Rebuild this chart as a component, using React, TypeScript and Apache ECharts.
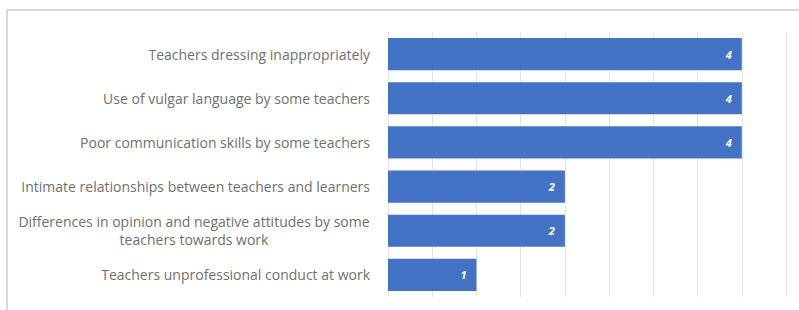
import React, { useEffect, useRef } from "react";
import * as echarts from "echarts";

const categories = [
  "Teachers dressing inappropriately",
  "Use of vulgar language by some teachers",
  "Poor communication skills by some teachers",
  "Intimate relationships between teachers and learners",
  "Differences in opinion and negative attitudes by some teachers towards work",
  "Teachers unprofessional conduct at work",
];
const values = [4, 4, 4, 2, 2, 1];
const xMax = 4.5;
const xInterval = 0.5;

const LABEL_FONT = "14px 'Open Sans'";
const LABEL_WIDTH = 362;

function wrapLabel(text: string): string {
  const canvas = document.createElement("canvas");
  const ctx = canvas.getContext("2d");
  if (!ctx) return text;
  ctx.font = LABEL_FONT;
  const words = text.split(" ");
  const lines: string[] = [];
  let cur = "";
  for (const w of words) {
    const test = cur ? cur + " " + w : w;
    if (ctx.measureText(test).width > LABEL_WIDTH && cur) {
      lines.push(cur);
      cur = w;
    } else {
      cur = test;
    }
  }
  if (cur) lines.push(cur);
  if (lines.length === 1) return text;
  const maxW = Math.ceil(Math.max(...lines.map((l) => ctx.measureText(l).width)));
  return lines.map((l) => `{c|${l}}`).join("\n").replace(/\{c\|/g, `{c|`) + `\u0000${maxW}`;
}

export default function App() {
  const ref = useRef<HTMLDivElement>(null);
  useEffect(() => {
    if (!ref.current) return;
    const chart = echarts.init(ref.current, null, { renderer: "svg" });
    let richWidth = 352;
    const wrapped: Record<string, string> = {};
    categories.forEach((c) => {
      const r = wrapLabel(c);
      const idx = r.indexOf("\u0000");
      if (idx >= 0) {
        richWidth = Math.max(parseInt(r.slice(idx + 1), 10), 1);
        wrapped[c] = r.slice(0, idx);
      } else {
        wrapped[c] = r;
      }
    });
    chart.setOption({
      animation: false,
      backgroundColor: "#ffffff",
      graphic: [
        {
          type: "rect",
          shape: { x: 7, y: 10, width: 900, height: 400 },
          style: { fill: "none", stroke: "#d9d9d9", lineWidth: 2 },
          silent: true,
        },
      ],
      grid: { left: 388, right: 13, top: 32, bottom: 13, containLabel: false },
      xAxis: {
        type: "value",
        min: 0,
        max: xMax,
        interval: xInterval,
        axisLabel: { show: false },
        axisLine: { show: false },
        axisTick: { show: false },
        splitLine: { show: true, lineStyle: { color: "#e3e3e3", width: 1 } },
      },
      yAxis: {
        type: "category",
        data: categories,
        inverse: true,
        axisLine: { show: false },
        axisTick: { show: false },
        axisLabel: {
          margin: 18,
          color: "#707070",
          fontFamily: "Open Sans",
          fontSize: 14,
          align: "right",
          lineHeight: 18,
          formatter: (v: string) => wrapped[v] ?? v,
          rich: {
            c: {
              width: richWidth,
              align: "center",
              color: "#707070",
              fontFamily: "Open Sans",
              fontSize: 14,
              lineHeight: 18,
            },
          },
        },
      },
      series: [
        {
          type: "bar",
          data: values,
          barCategoryGap: "27%",
          itemStyle: { color: "#4472C4" },
          label: {
            show: true,
            position: "insideRight",
            distance: 10,
            color: "#ffffff",
            fontStyle: "italic",
            fontWeight: "bold",
            fontSize: 11,
            fontFamily: "Open Sans",
          },
        },
      ],
    });
    return () => chart.dispose();
  }, []);
  return (
    <div
      ref={ref}
      style={{ position: "fixed", left: 0, top: 0, width: 799, height: 310 }}
    />
  );
}
